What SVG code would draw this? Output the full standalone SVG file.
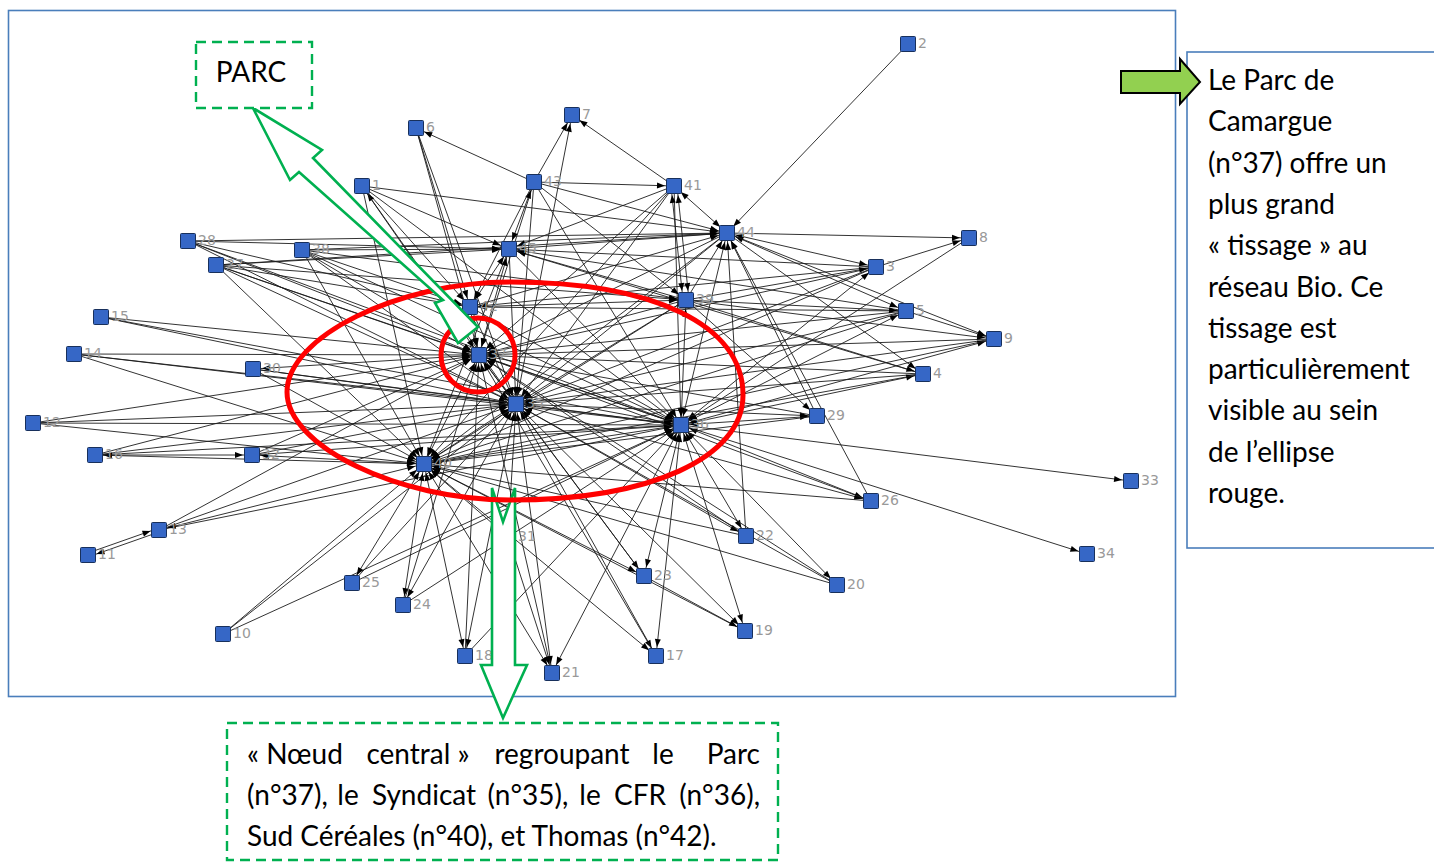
<svg xmlns="http://www.w3.org/2000/svg" width="1434" height="863" viewBox="0 0 1434 863">
<style>
.e{stroke:#1c1c1c;stroke-width:0.9;fill:none;marker-end:url(#ah)}
.b{stroke:#1c1c1c;stroke-width:0.9;fill:none;marker-start:url(#ah);marker-end:url(#ah)}
.nd rect{fill:#3667c6;stroke:#18305c;stroke-width:1}
.nd text{font-family:"DejaVu Sans",Verdana,sans-serif;font-size:14px;fill:#999}
.t{font-family:Lato,"Open Sans",sans-serif;font-size:28px;fill:#000}
.frame{fill:none;stroke:#4a7ebb;stroke-width:1.6}
.garrow{fill:#fff;stroke:#00b050;stroke-width:2.6;stroke-linejoin:miter}
.dash{fill:#fff;stroke:#00b050;stroke-width:2.4;stroke-dasharray:10 6}
.red{fill:none;stroke:#ff0000;stroke-width:5}
</style>
<defs>
<marker id="ah" viewBox="0 0 8 6" refX="17" refY="3" markerWidth="8" markerHeight="6" markerUnits="userSpaceOnUse" orient="auto-start-reverse" overflow="visible"><path d="M0,0 L8,3 L0,6 z" fill="#000"/></marker>
</defs>
<rect width="1434" height="863" fill="#fff"/>
<rect class="frame" x="8.5" y="10.5" width="1167" height="686"/>
<g id="connectors">
<line class="b" x1="362" y1="186" x2="516" y2="404"/>
<line class="e" x1="876" y1="267" x2="516" y2="404"/>
<line class="e" x1="923" y1="374" x2="516" y2="404"/>
<line class="e" x1="906" y1="311" x2="516" y2="404"/>
<line class="b" x1="572" y1="115" x2="516" y2="404"/>
<line class="e" x1="994" y1="339" x2="516" y2="404"/>
<line class="e" x1="33" y1="423" x2="516" y2="404"/>
<line class="e" x1="159" y1="530" x2="516" y2="404"/>
<line class="e" x1="74" y1="354" x2="516" y2="404"/>
<line class="e" x1="101" y1="317" x2="516" y2="404"/>
<line class="e" x1="95" y1="455" x2="516" y2="404"/>
<line class="b" x1="656" y1="656" x2="516" y2="404"/>
<line class="b" x1="465" y1="656" x2="516" y2="404"/>
<line class="b" x1="745" y1="631" x2="516" y2="404"/>
<line class="e" x1="837" y1="585" x2="516" y2="404"/>
<line class="b" x1="552" y1="673" x2="516" y2="404"/>
<line class="b" x1="746" y1="536" x2="516" y2="404"/>
<line class="b" x1="644" y1="576" x2="516" y2="404"/>
<line class="b" x1="403" y1="605" x2="516" y2="404"/>
<line class="e" x1="352" y1="583" x2="516" y2="404"/>
<line class="b" x1="871" y1="501" x2="516" y2="404"/>
<line class="e" x1="216" y1="265" x2="516" y2="404"/>
<line class="e" x1="188" y1="241" x2="516" y2="404"/>
<line class="b" x1="817" y1="416" x2="516" y2="404"/>
<line class="e" x1="253" y1="369" x2="516" y2="404"/>
<line class="b" x1="508" y1="537" x2="516" y2="404"/>
<line class="e" x1="252" y1="455" x2="516" y2="404"/>
<line class="e" x1="302" y1="250" x2="516" y2="404"/>
<line class="e" x1="686" y1="300" x2="516" y2="404"/>
<line class="e" x1="674" y1="186" x2="516" y2="404"/>
<line class="e" x1="470" y1="307" x2="516" y2="404"/>
<line class="e" x1="534" y1="182" x2="516" y2="404"/>
<line class="e" x1="727" y1="233" x2="516" y2="404"/>
<line class="e" x1="509" y1="249" x2="516" y2="404"/>
<line class="e" x1="416" y1="128" x2="516" y2="404"/>
<line class="b" x1="479" y1="355" x2="516" y2="404"/>
<line class="b" x1="681" y1="425" x2="516" y2="404"/>
<line class="b" x1="424" y1="464" x2="516" y2="404"/>
<line class="e" x1="223" y1="634" x2="516" y2="404"/>
<line class="e" x1="362" y1="186" x2="681" y2="425"/>
<line class="b" x1="876" y1="267" x2="681" y2="425"/>
<line class="b" x1="923" y1="374" x2="681" y2="425"/>
<line class="b" x1="906" y1="311" x2="681" y2="425"/>
<line class="e" x1="969" y1="238" x2="681" y2="425"/>
<line class="b" x1="994" y1="339" x2="681" y2="425"/>
<line class="e" x1="223" y1="634" x2="681" y2="425"/>
<line class="e" x1="33" y1="423" x2="681" y2="425"/>
<line class="e" x1="159" y1="530" x2="681" y2="425"/>
<line class="e" x1="74" y1="354" x2="681" y2="425"/>
<line class="e" x1="101" y1="317" x2="681" y2="425"/>
<line class="e" x1="95" y1="455" x2="681" y2="425"/>
<line class="b" x1="656" y1="656" x2="681" y2="425"/>
<line class="e" x1="465" y1="656" x2="681" y2="425"/>
<line class="b" x1="745" y1="631" x2="681" y2="425"/>
<line class="b" x1="837" y1="585" x2="681" y2="425"/>
<line class="b" x1="552" y1="673" x2="681" y2="425"/>
<line class="b" x1="746" y1="536" x2="681" y2="425"/>
<line class="b" x1="644" y1="576" x2="681" y2="425"/>
<line class="e" x1="403" y1="605" x2="681" y2="425"/>
<line class="e" x1="352" y1="583" x2="681" y2="425"/>
<line class="b" x1="871" y1="501" x2="681" y2="425"/>
<line class="e" x1="216" y1="265" x2="681" y2="425"/>
<line class="e" x1="188" y1="241" x2="681" y2="425"/>
<line class="b" x1="817" y1="416" x2="681" y2="425"/>
<line class="e" x1="253" y1="369" x2="681" y2="425"/>
<line class="e" x1="252" y1="455" x2="681" y2="425"/>
<line class="b" x1="479" y1="355" x2="681" y2="425"/>
<line class="e" x1="302" y1="250" x2="681" y2="425"/>
<line class="b" x1="686" y1="300" x2="681" y2="425"/>
<line class="e" x1="674" y1="186" x2="681" y2="425"/>
<line class="e" x1="534" y1="182" x2="681" y2="425"/>
<line class="b" x1="727" y1="233" x2="681" y2="425"/>
<line class="e" x1="509" y1="249" x2="681" y2="425"/>
<line class="b" x1="424" y1="464" x2="681" y2="425"/>
<line class="e" x1="470" y1="307" x2="681" y2="425"/>
<line class="e" x1="681" y1="425" x2="1131" y2="481"/>
<line class="e" x1="681" y1="425" x2="1087" y2="554"/>
<line class="e" x1="362" y1="186" x2="424" y2="464"/>
<line class="e" x1="876" y1="267" x2="424" y2="464"/>
<line class="e" x1="923" y1="374" x2="424" y2="464"/>
<line class="e" x1="906" y1="311" x2="424" y2="464"/>
<line class="e" x1="223" y1="634" x2="424" y2="464"/>
<line class="e" x1="33" y1="423" x2="424" y2="464"/>
<line class="b" x1="159" y1="530" x2="424" y2="464"/>
<line class="e" x1="74" y1="354" x2="424" y2="464"/>
<line class="b" x1="95" y1="455" x2="424" y2="464"/>
<line class="b" x1="656" y1="656" x2="424" y2="464"/>
<line class="b" x1="465" y1="656" x2="424" y2="464"/>
<line class="e" x1="745" y1="631" x2="424" y2="464"/>
<line class="e" x1="837" y1="585" x2="424" y2="464"/>
<line class="b" x1="552" y1="673" x2="424" y2="464"/>
<line class="e" x1="746" y1="536" x2="424" y2="464"/>
<line class="b" x1="644" y1="576" x2="424" y2="464"/>
<line class="b" x1="403" y1="605" x2="424" y2="464"/>
<line class="b" x1="352" y1="583" x2="424" y2="464"/>
<line class="e" x1="871" y1="501" x2="424" y2="464"/>
<line class="e" x1="216" y1="265" x2="424" y2="464"/>
<line class="e" x1="817" y1="416" x2="424" y2="464"/>
<line class="e" x1="253" y1="369" x2="424" y2="464"/>
<line class="e" x1="508" y1="537" x2="424" y2="464"/>
<line class="b" x1="252" y1="455" x2="424" y2="464"/>
<line class="b" x1="479" y1="355" x2="424" y2="464"/>
<line class="e" x1="302" y1="250" x2="424" y2="464"/>
<line class="e" x1="686" y1="300" x2="424" y2="464"/>
<line class="e" x1="674" y1="186" x2="424" y2="464"/>
<line class="e" x1="727" y1="233" x2="424" y2="464"/>
<line class="e" x1="509" y1="249" x2="424" y2="464"/>
<line class="e" x1="994" y1="339" x2="424" y2="464"/>
<line class="e" x1="362" y1="186" x2="479" y2="355"/>
<line class="e" x1="876" y1="267" x2="479" y2="355"/>
<line class="e" x1="923" y1="374" x2="479" y2="355"/>
<line class="e" x1="906" y1="311" x2="479" y2="355"/>
<line class="e" x1="416" y1="128" x2="479" y2="355"/>
<line class="e" x1="994" y1="339" x2="479" y2="355"/>
<line class="e" x1="159" y1="530" x2="479" y2="355"/>
<line class="e" x1="74" y1="354" x2="479" y2="355"/>
<line class="e" x1="101" y1="317" x2="479" y2="355"/>
<line class="e" x1="656" y1="656" x2="479" y2="355"/>
<line class="e" x1="465" y1="656" x2="479" y2="355"/>
<line class="e" x1="746" y1="536" x2="479" y2="355"/>
<line class="e" x1="644" y1="576" x2="479" y2="355"/>
<line class="e" x1="403" y1="605" x2="479" y2="355"/>
<line class="e" x1="871" y1="501" x2="479" y2="355"/>
<line class="e" x1="216" y1="265" x2="479" y2="355"/>
<line class="e" x1="188" y1="241" x2="479" y2="355"/>
<line class="e" x1="817" y1="416" x2="479" y2="355"/>
<line class="b" x1="253" y1="369" x2="479" y2="355"/>
<line class="e" x1="252" y1="455" x2="479" y2="355"/>
<line class="e" x1="302" y1="250" x2="479" y2="355"/>
<line class="e" x1="686" y1="300" x2="479" y2="355"/>
<line class="e" x1="674" y1="186" x2="479" y2="355"/>
<line class="b" x1="470" y1="307" x2="479" y2="355"/>
<line class="e" x1="534" y1="182" x2="479" y2="355"/>
<line class="e" x1="727" y1="233" x2="479" y2="355"/>
<line class="b" x1="509" y1="249" x2="479" y2="355"/>
<line class="e" x1="552" y1="673" x2="479" y2="355"/>
<line class="e" x1="837" y1="585" x2="479" y2="355"/>
<line class="e" x1="33" y1="423" x2="479" y2="355"/>
<line class="e" x1="95" y1="455" x2="479" y2="355"/>
<line class="e" x1="908" y1="44" x2="727" y2="233"/>
<line class="e" x1="727" y1="233" x2="969" y2="238"/>
<line class="b" x1="876" y1="267" x2="727" y2="233"/>
<line class="b" x1="906" y1="311" x2="727" y2="233"/>
<line class="e" x1="727" y1="233" x2="923" y2="374"/>
<line class="e" x1="727" y1="233" x2="994" y2="339"/>
<line class="e" x1="746" y1="536" x2="727" y2="233"/>
<line class="e" x1="871" y1="501" x2="727" y2="233"/>
<line class="e" x1="188" y1="241" x2="727" y2="233"/>
<line class="e" x1="817" y1="416" x2="727" y2="233"/>
<line class="e" x1="302" y1="250" x2="727" y2="233"/>
<line class="b" x1="674" y1="186" x2="727" y2="233"/>
<line class="e" x1="534" y1="182" x2="727" y2="233"/>
<line class="e" x1="509" y1="249" x2="727" y2="233"/>
<line class="e" x1="470" y1="307" x2="727" y2="233"/>
<line class="e" x1="362" y1="186" x2="727" y2="233"/>
<line class="e" x1="216" y1="265" x2="727" y2="233"/>
<line class="e" x1="686" y1="300" x2="727" y2="233"/>
<line class="e" x1="302" y1="250" x2="509" y2="249"/>
<line class="e" x1="216" y1="265" x2="509" y2="249"/>
<line class="e" x1="188" y1="241" x2="509" y2="249"/>
<line class="b" x1="534" y1="182" x2="509" y2="249"/>
<line class="e" x1="674" y1="186" x2="509" y2="249"/>
<line class="b" x1="470" y1="307" x2="509" y2="249"/>
<line class="e" x1="686" y1="300" x2="509" y2="249"/>
<line class="e" x1="876" y1="267" x2="509" y2="249"/>
<line class="e" x1="906" y1="311" x2="509" y2="249"/>
<line class="e" x1="362" y1="186" x2="509" y2="249"/>
<line class="e" x1="923" y1="374" x2="509" y2="249"/>
<line class="e" x1="416" y1="128" x2="470" y2="307"/>
<line class="e" x1="362" y1="186" x2="470" y2="307"/>
<line class="e" x1="216" y1="265" x2="470" y2="307"/>
<line class="e" x1="302" y1="250" x2="470" y2="307"/>
<line class="b" x1="686" y1="300" x2="470" y2="307"/>
<line class="e" x1="876" y1="267" x2="470" y2="307"/>
<line class="e" x1="906" y1="311" x2="470" y2="307"/>
<line class="e" x1="534" y1="182" x2="470" y2="307"/>
<line class="e" x1="188" y1="241" x2="470" y2="307"/>
<line class="b" x1="671" y1="186" x2="683" y2="300"/>
<line class="b" x1="677" y1="186" x2="689" y2="300"/>
<line class="e" x1="686" y1="300" x2="906" y2="311"/>
<line class="e" x1="686" y1="300" x2="876" y2="267"/>
<line class="e" x1="686" y1="300" x2="817" y2="416"/>
<line class="e" x1="686" y1="300" x2="923" y2="374"/>
<line class="e" x1="686" y1="300" x2="994" y2="339"/>
<line class="e" x1="534" y1="182" x2="686" y2="300"/>
<line class="e" x1="302" y1="250" x2="686" y2="300"/>
<line class="e" x1="216" y1="265" x2="686" y2="300"/>
<line class="e" x1="534" y1="182" x2="572" y2="115"/>
<line class="e" x1="534" y1="182" x2="416" y2="128"/>
<line class="e" x1="534" y1="182" x2="674" y2="186"/>
<line class="e" x1="674" y1="186" x2="572" y2="115"/>
<line class="e" x1="876" y1="267" x2="969" y2="238"/>
<line class="e" x1="906" y1="311" x2="994" y2="339"/>
<line class="e" x1="95" y1="455" x2="252" y2="455"/>
<line class="e" x1="88" y1="553" x2="159" y2="528"/>
<line class="e" x1="159" y1="532" x2="88" y2="557"/>
<line class="e" x1="644" y1="576" x2="745" y2="631"/>
<line class="e" x1="508" y1="537" x2="552" y2="673"/>
</g>
<g id="nodes" class="nd">
<g id="node-1" transform="translate(362,186)"><rect x="-7.5" y="-7.5" width="15" height="15" rx="1"/><text x="10" y="4">1</text></g>
<g id="node-2" transform="translate(908,44)"><rect x="-7.5" y="-7.5" width="15" height="15" rx="1"/><text x="10" y="4">2</text></g>
<g id="node-3" transform="translate(876,267)"><rect x="-7.5" y="-7.5" width="15" height="15" rx="1"/><text x="10" y="4">3</text></g>
<g id="node-4" transform="translate(923,374)"><rect x="-7.5" y="-7.5" width="15" height="15" rx="1"/><text x="10" y="4">4</text></g>
<g id="node-5" transform="translate(906,311)"><rect x="-7.5" y="-7.5" width="15" height="15" rx="1"/><text x="10" y="4">5</text></g>
<g id="node-6" transform="translate(416,128)"><rect x="-7.5" y="-7.5" width="15" height="15" rx="1"/><text x="10" y="4">6</text></g>
<g id="node-7" transform="translate(572,115)"><rect x="-7.5" y="-7.5" width="15" height="15" rx="1"/><text x="10" y="4">7</text></g>
<g id="node-8" transform="translate(969,238)"><rect x="-7.5" y="-7.5" width="15" height="15" rx="1"/><text x="10" y="4">8</text></g>
<g id="node-9" transform="translate(994,339)"><rect x="-7.5" y="-7.5" width="15" height="15" rx="1"/><text x="10" y="4">9</text></g>
<g id="node-10" transform="translate(223,634)"><rect x="-7.5" y="-7.5" width="15" height="15" rx="1"/><text x="10" y="4">10</text></g>
<g id="node-11" transform="translate(88,555)"><rect x="-7.5" y="-7.5" width="15" height="15" rx="1"/><text x="10" y="4">11</text></g>
<g id="node-12" transform="translate(33,423)"><rect x="-7.5" y="-7.5" width="15" height="15" rx="1"/><text x="10" y="4">12</text></g>
<g id="node-13" transform="translate(159,530)"><rect x="-7.5" y="-7.5" width="15" height="15" rx="1"/><text x="10" y="4">13</text></g>
<g id="node-14" transform="translate(74,354)"><rect x="-7.5" y="-7.5" width="15" height="15" rx="1"/><text x="10" y="4">14</text></g>
<g id="node-15" transform="translate(101,317)"><rect x="-7.5" y="-7.5" width="15" height="15" rx="1"/><text x="10" y="4">15</text></g>
<g id="node-16" transform="translate(95,455)"><rect x="-7.5" y="-7.5" width="15" height="15" rx="1"/><text x="10" y="4">16</text></g>
<g id="node-17" transform="translate(656,656)"><rect x="-7.5" y="-7.5" width="15" height="15" rx="1"/><text x="10" y="4">17</text></g>
<g id="node-18" transform="translate(465,656)"><rect x="-7.5" y="-7.5" width="15" height="15" rx="1"/><text x="10" y="4">18</text></g>
<g id="node-19" transform="translate(745,631)"><rect x="-7.5" y="-7.5" width="15" height="15" rx="1"/><text x="10" y="4">19</text></g>
<g id="node-20" transform="translate(837,585)"><rect x="-7.5" y="-7.5" width="15" height="15" rx="1"/><text x="10" y="4">20</text></g>
<g id="node-21" transform="translate(552,673)"><rect x="-7.5" y="-7.5" width="15" height="15" rx="1"/><text x="10" y="4">21</text></g>
<g id="node-22" transform="translate(746,536)"><rect x="-7.5" y="-7.5" width="15" height="15" rx="1"/><text x="10" y="4">22</text></g>
<g id="node-23" transform="translate(644,576)"><rect x="-7.5" y="-7.5" width="15" height="15" rx="1"/><text x="10" y="4">23</text></g>
<g id="node-24" transform="translate(403,605)"><rect x="-7.5" y="-7.5" width="15" height="15" rx="1"/><text x="10" y="4">24</text></g>
<g id="node-25" transform="translate(352,583)"><rect x="-7.5" y="-7.5" width="15" height="15" rx="1"/><text x="10" y="4">25</text></g>
<g id="node-26" transform="translate(871,501)"><rect x="-7.5" y="-7.5" width="15" height="15" rx="1"/><text x="10" y="4">26</text></g>
<g id="node-27" transform="translate(216,265)"><rect x="-7.5" y="-7.5" width="15" height="15" rx="1"/><text x="10" y="4">27</text></g>
<g id="node-28" transform="translate(188,241)"><rect x="-7.5" y="-7.5" width="15" height="15" rx="1"/><text x="10" y="4">28</text></g>
<g id="node-29" transform="translate(817,416)"><rect x="-7.5" y="-7.5" width="15" height="15" rx="1"/><text x="10" y="4">29</text></g>
<g id="node-30" transform="translate(253,369)"><rect x="-7.5" y="-7.5" width="15" height="15" rx="1"/><text x="10" y="4">30</text></g>
<g id="node-31" transform="translate(508,537)"><rect x="-7.5" y="-7.5" width="15" height="15" rx="1"/><text x="10" y="4">31</text></g>
<g id="node-32" transform="translate(252,455)"><rect x="-7.5" y="-7.5" width="15" height="15" rx="1"/><text x="10" y="4">32</text></g>
<g id="node-33" transform="translate(1131,481)"><rect x="-7.5" y="-7.5" width="15" height="15" rx="1"/><text x="10" y="4">33</text></g>
<g id="node-34" transform="translate(1087,554)"><rect x="-7.5" y="-7.5" width="15" height="15" rx="1"/><text x="10" y="4">34</text></g>
<g id="node-35" transform="translate(516,404)"><rect x="-7.5" y="-7.5" width="15" height="15" rx="1"/><text x="10" y="4">35</text></g>
<g id="node-36" transform="translate(681,425)"><rect x="-7.5" y="-7.5" width="15" height="15" rx="1"/><text x="10" y="4">36</text></g>
<g id="node-37" transform="translate(479,355)"><rect x="-7.5" y="-7.5" width="15" height="15" rx="1"/><text x="10" y="4">37</text></g>
<g id="node-38" transform="translate(302,250)"><rect x="-7.5" y="-7.5" width="15" height="15" rx="1"/><text x="10" y="4">38</text></g>
<g id="node-39" transform="translate(686,300)"><rect x="-7.5" y="-7.5" width="15" height="15" rx="1"/><text x="10" y="4">39</text></g>
<g id="node-40" transform="translate(424,464)"><rect x="-7.5" y="-7.5" width="15" height="15" rx="1"/><text x="10" y="4">40</text></g>
<g id="node-41" transform="translate(674,186)"><rect x="-7.5" y="-7.5" width="15" height="15" rx="1"/><text x="10" y="4">41</text></g>
<g id="node-42" transform="translate(470,307)"><rect x="-7.5" y="-7.5" width="15" height="15" rx="1"/><text x="10" y="4">42</text></g>
<g id="node-43" transform="translate(534,182)"><rect x="-7.5" y="-7.5" width="15" height="15" rx="1"/><text x="10" y="4">43</text></g>
<g id="node-44" transform="translate(727,233)"><rect x="-7.5" y="-7.5" width="15" height="15" rx="1"/><text x="10" y="4">44</text></g>
<g id="node-45" transform="translate(509,249)"><rect x="-7.5" y="-7.5" width="15" height="15" rx="1"/><text x="10" y="4">45</text></g>
</g>
<g id="down-arrow">
<polygon class="garrow" points="492,488 503,522 515,488 515,665 527,665 503,718 481,665 492,665"/>
</g>
<g id="red-ellipses">
<path class="red" d="M287,392 C287,337 398,282 510,282 C654,282 743,325 743,395 C743,458 650,500 510,500 C398,500 287,446 287,392 Z"/>
<circle class="red" cx="478" cy="355" r="37" stroke-width="4.5"/>
</g>
<g id="parc-arrow">
<polygon class="garrow" points="253,108 322,150 313,158 478,327 458,343 435,303 443,300 299,172 290,180"/>
</g>
<g id="parc-box">
<rect class="dash" x="196" y="42" width="116" height="66"/>
<text class="t" x="251" y="82" text-anchor="middle">PARC</text>
</g>
<g id="central-box">
<rect class="dash" x="227" y="723" width="551" height="137"/>
<text class="t" x="247" y="764">« Nœud</text>
<text class="t" x="418" y="764" text-anchor="middle">central »</text>
<text class="t" x="562" y="764" text-anchor="middle">regroupant</text>
<text class="t" x="663" y="764" text-anchor="middle">le</text>
<text class="t" x="760" y="764" text-anchor="end">Parc</text>
<text class="t" x="247" y="805">(n°37),</text>
<text class="t" x="348" y="805" text-anchor="middle">le</text>
<text class="t" x="424" y="805" text-anchor="middle">Syndicat</text>
<text class="t" x="528" y="805" text-anchor="middle">(n°35),</text>
<text class="t" x="590" y="805" text-anchor="middle">le</text>
<text class="t" x="640" y="805" text-anchor="middle">CFR</text>
<text class="t" x="760" y="805" text-anchor="end">(n°36),</text>
<text class="t" x="247" y="846">Sud Céréales (n°40), et Thomas (n°42).</text>
</g>
<g id="note-box">
<rect x="1187" y="52" width="260" height="496" fill="#fff" stroke="#4a7ebb" stroke-width="1.6"/>
<text class="t" x="1208" y="90">Le Parc de</text>
<text class="t" x="1208" y="131.3">Camargue</text>
<text class="t" x="1208" y="172.6">(n°37) offre un</text>
<text class="t" x="1208" y="213.9">plus grand</text>
<text class="t" x="1208" y="255.2">« tissage » au</text>
<text class="t" x="1208" y="296.5">réseau Bio. Ce</text>
<text class="t" x="1208" y="337.8">tissage est</text>
<text class="t" x="1208" y="379.1">particulièrement</text>
<text class="t" x="1208" y="420.4">visible au sein</text>
<text class="t" x="1208" y="461.7">de l’ellipse</text>
<text class="t" x="1208" y="503">rouge.</text>
</g>
<g id="note-arrow">
<polygon points="1121,71 1180,71 1180,59 1200,82 1180,104 1180,93 1121,93" fill="#92d050" stroke="#000" stroke-width="2"/>
</g>
</svg>
